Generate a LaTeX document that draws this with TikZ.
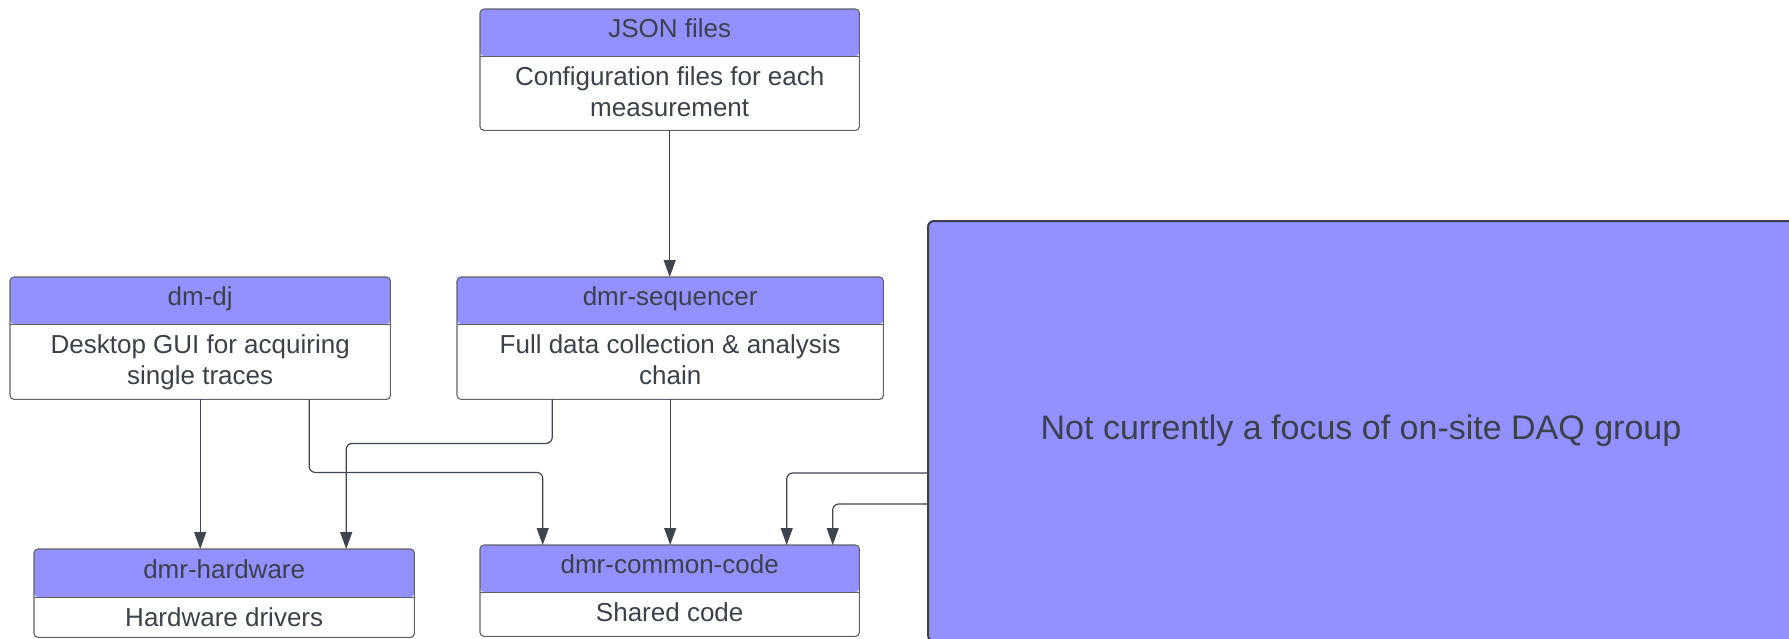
\documentclass[tikz,border=0pt]{standalone}
\usepackage{fontspec}
\setmainfont{Liberation Sans}
\usetikzlibrary{arrows.meta,positioning}
\definecolor{headblue}{HTML}{9391FF}
\definecolor{txtgray}{HTML}{3A414A}
\definecolor{linegray}{HTML}{5C6168}
\definecolor{arrowgray}{HTML}{3F454E}

\tikzset{
  head/.style={fill=headblue, rounded corners=4pt, text=txtgray, minimum height=47pt,
    text height=18pt, text depth=8pt, inner sep=0pt, anchor=north west,
    font=\fontsize{26}{31}\selectfont},
  body/.style={text=txtgray, align=center, inner sep=0pt, anchor=north, yshift=-10pt,
    font=\fontsize{26}{31}\selectfont},
  frame/.style={draw=linegray, line width=1.1pt, rounded corners=4pt},
  sep/.style={draw=linegray, line width=1.1pt},
  link/.style={draw=arrowgray, line width=1.2pt, rounded corners=6pt,
    -{Triangle[length=17pt,width=12pt]}},
  other/.style={fill=headblue, draw=txtgray, line width=2pt, rounded corners=6pt,
    text=txtgray, anchor=north west, inner sep=0pt, font=\fontsize{34}{40}\selectfont}
}

\begin{document}
\begin{tikzpicture}[x=1pt,y=-1pt]
\useasboundingbox (0,0) rectangle (1789,638);
\clip (0,0) rectangle (1789,638);

% boxes
\node[head, minimum width=379pt] (json) at (480,9) {JSON files};
\node[body] (jsonbody) at (json.south) {Configuration files for each\\measurement};

\node[head, minimum width=380pt] (dj) at (10,277) {dm-dj};
\node[body] (djbody) at (dj.south) {Desktop GUI for acquiring\\single traces};

\node[head, minimum width=426pt] (seq) at (457,277) {dmr-sequencer};
\node[body] (seqbody) at (seq.south) {Full data collection \& analysis\\chain};

\node[head, minimum width=380pt, minimum height=48pt] (hw) at (34,549) {dmr-hardware};
\node[body] (hwbody) at (hw.south) {Hardware drivers};

\node[head, minimum width=379pt] (cc) at (480,545) {dmr-common-code};
\node[body] (ccbody) at (cc.south) {Shared code};

\foreach \bx/\h in {json/74,dj/75,seq/75,hw/40,cc/44} {
  \coordinate (\bx bot) at ([yshift=-\h pt]\bx.south);
  \draw[frame] (\bx.north west) rectangle ([yshift=-\h pt]\bx.south east);
  \draw[sep] (\bx.south west) -- (\bx.south east);
}

\node[other, minimum width=866pt, minimum height=420pt] (other) at (927,220) {Not currently a focus of on-site DAQ group};

% connectors
\draw[link] (jsonbot) -- (jsonbot |- seq.north);
\draw[link] (djbot) -- (djbot |- hw.north);
\draw[link] ([xshift=109pt]djbot) -- ++(0,73) -| ([xshift=-127pt]cc.north);
\draw[link] ([xshift=-118pt]seqbot) -- ++(0,44) -| ([xshift=122pt]hw.north);
\draw[link] (seqbot) -- (seqbot |- cc.north);
\draw[link] ([yshift=-42pt]other.west) -| ([xshift=117pt]cc.north);
\draw[link] ([yshift=-73pt]other.west) -| ([xshift=163pt]cc.north);
\end{tikzpicture}
\end{document}
